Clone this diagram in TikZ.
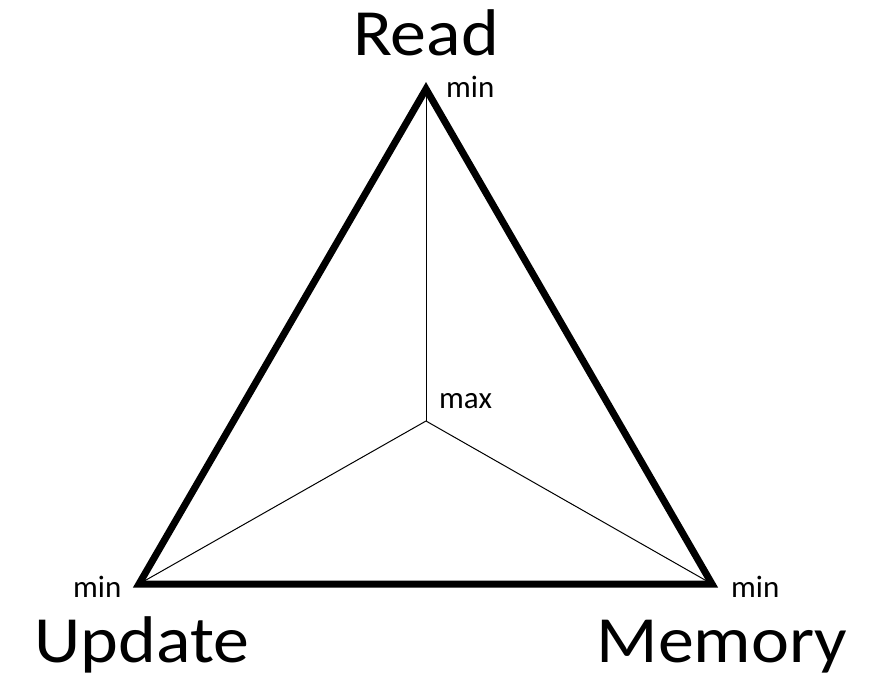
\documentclass[tikz,border=0pt]{standalone}
\usepackage{fontspec}
\setmainfont{Carlito}
\newfontfamily\wideface[FakeStretch=1.09]{Carlito}
\begin{document}
\begin{tikzpicture}[x=1pt,y=-1pt,
  thickedge/.style={line width=7pt,line join=miter},
  thinedge/.style={line width=1pt},
  biglabel/.style={inner sep=0pt,font=\wideface\fontsize{66}{66}\selectfont},
  smalllabel/.style={inner sep=0pt,font=\fontsize{31}{31}\selectfont}]
\useasboundingbox (0,0) rectangle (876,678);
\coordinate (R) at (426,89);
\coordinate (U) at (139,584);
\coordinate (M) at (712,584);
\coordinate (C) at (426,421);
\draw[thinedge] (C) -- (R);
\draw[thinedge] (C) -- (U);
\draw[thinedge] (C) -- (M);
\draw[thickedge] (R) -- (U) -- (M) -- cycle;
\node[biglabel,anchor=base] (lread) at (426,55) {Read};
\node[biglabel,anchor=base] (lupdate) at (142,662) {Update};
\node[biglabel,anchor=base] (lmem) at (722,662) {Memory};
\node[smalllabel,anchor=base west] (mintop) at (446,97) {min};
\node[smalllabel,anchor=base west] (maxc) at (439,408) {max};
\node[smalllabel,anchor=base west] (minleft) at (73,597) {min};
\node[smalllabel,anchor=base west] (minright) at (731,597) {min};
\end{tikzpicture}
\end{document}
